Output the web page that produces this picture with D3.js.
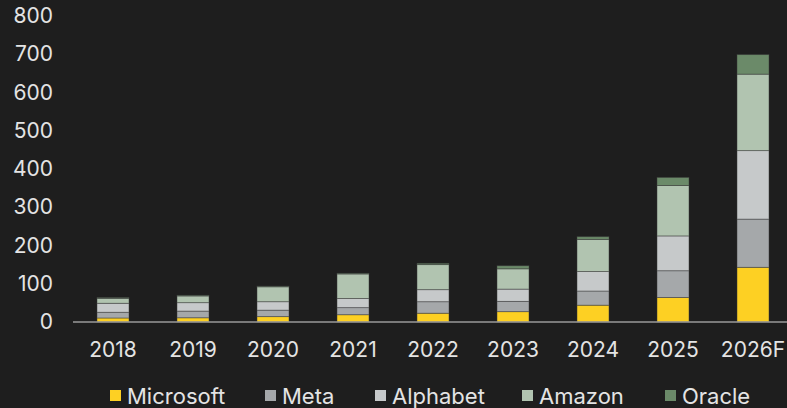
<!DOCTYPE html>
<html>
<head>
<meta charset="utf-8">
<script src="https://cdn.jsdelivr.net/npm/d3@7"></script>
<style>
  html, body { margin: 0; padding: 0; background: #1e1e1e; }
  svg { display: block; }
</style>
</head>
<body>
<div id="capex_chart"></div>
<script>
const years = ["2018", "2019", "2020", "2021", "2022", "2023", "2024", "2025", "2026F"];
const companies = ["Microsoft", "Meta", "Alphabet", "Amazon", "Oracle"];
const colors = ["#fdd023", "#a5a8aa", "#c6c9ca", "#b1c4b0", "#6b8a69"];

const microsoft = [10.5, 11, 14, 19, 23, 27, 44, 64, 143];
const meta = [15, 17.5, 17, 18.5, 30, 27, 37, 70, 126];
const alphabet = [23.5, 22, 22, 24, 31.5, 32, 51, 91, 179];
const amazon = [13, 17.5, 39, 64, 65.5, 53, 84, 132, 200];
const oracle = [2, 2, 2, 2, 3.5, 8, 7, 21, 51];

const yTicks = [0, 100, 200, 300, 400, 500, 600, 700, 800];

function capex_chart() {
    const width = 787, height = 408;
    const font = "Inter, 'Noto Sans', sans-serif";

    const table = years.map((yr, i) => ({
        year: yr,
        Microsoft: microsoft[i],
        Meta: meta[i],
        Alphabet: alphabet[i],
        Amazon: amazon[i],
        Oracle: oracle[i]
    }));

    const svg = d3.select("#capex_chart").append("svg")
        .attr("width", width)
        .attr("height", height);

    // scales
    const x = d3.scaleBand()
        .domain(years)
        .range([73, 793])
        .paddingInner(0.6)
        .paddingOuter(0.3);

    const y = d3.scaleLinear()
        .domain([0, 800])
        .range([322, 16]);

    const color = d3.scaleOrdinal().domain(companies).range(colors);

    const stacked = d3.stack().keys(companies)(table);

    // bars
    svg.append("g")
        .selectAll("g")
        .data(stacked)
        .join("g")
        .attr("fill", d => color(d.key))
        .selectAll("rect")
        .data(d => d)
        .join("rect")
        .attr("x", d => x(d.data.year))
        .attr("width", x.bandwidth())
        .attr("y", d => y(d[1]))
        .attr("height", d => y(d[0]) - y(d[1]))
        .attr("stroke", "#3c3c3c")
        .attr("stroke-opacity", 0.6)
        .attr("stroke-width", 0.8);

    // x axis
    const xAxis = svg.append("g")
        .attr("transform", `translate(0,${y(0)})`)
        .call(d3.axisBottom(x).tickSize(0).tickPadding(20));
    xAxis.select(".domain")
        .attr("d", `M73,0H787`)
        .attr("stroke", "#9a9a9a")
        .attr("stroke-width", 1.5);
    xAxis.selectAll("text")
        .attr("fill", "#e4e4e4")
        .attr("font-size", "21px")
        .attr("font-family", font);

    // y axis
    const yAxis = svg.append("g")
        .attr("transform", "translate(53,0)")
        .call(d3.axisLeft(y).tickValues(yTicks).tickSize(0).tickPadding(0));
    yAxis.select(".domain").remove();
    yAxis.selectAll("text")
        .attr("fill", "#e4e4e4")
        .attr("font-size", "21px")
        .attr("font-family", font);

    // legend
    const legendX = [110, 265, 375, 522, 665];
    const legend = svg.append("g")
        .selectAll("g")
        .data(companies)
        .join("g")
        .attr("transform", (d, i) => `translate(${legendX[i]},396)`);

    legend.append("rect")
        .attr("x", 0)
        .attr("y", -6)
        .attr("width", 11)
        .attr("height", 11)
        .attr("fill", d => color(d));

    legend.append("text")
        .attr("x", 17)
        .attr("y", 0)
        .attr("dy", "0.35em")
        .attr("fill", "#e4e4e4")
        .attr("font-size", "22px")
        .attr("font-family", font)
        .text(d => d);

    return svg.node();
}

capex_chart();
</script>
</body>
</html>
